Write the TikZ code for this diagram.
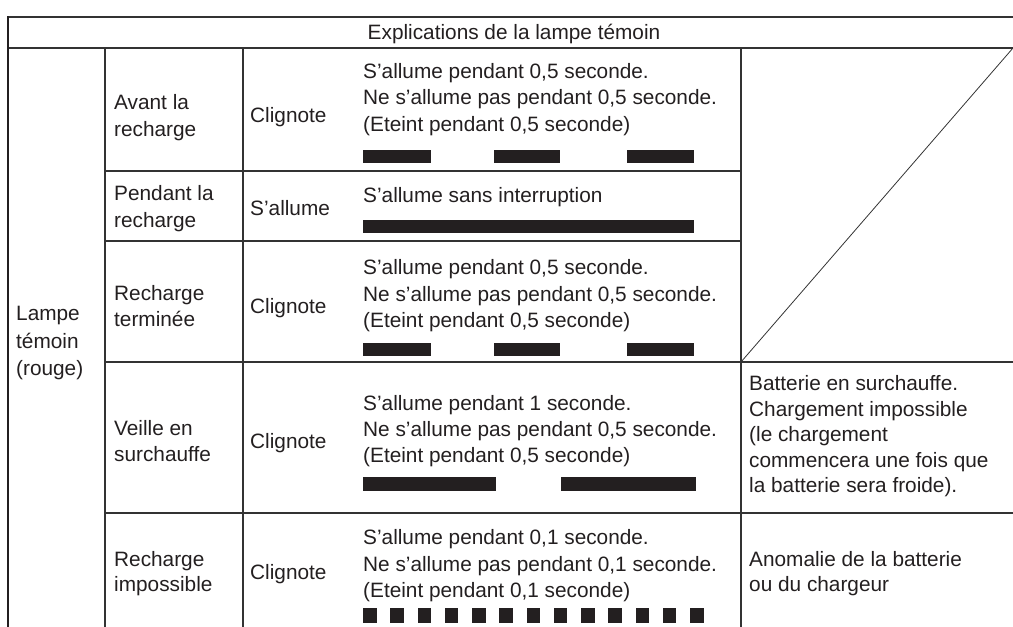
\documentclass[tikz,border=0pt]{standalone}
\usepackage{fontspec}
\setmainfont{Liberation Sans}
\definecolor{ink}{HTML}{231F20}
\definecolor{rulegray}{HTML}{333333}
\begin{document}
\begin{tikzpicture}[x=1pt,y=-1pt,
  txt/.style={anchor=base west, inner sep=0pt, font=\fontsize{20.8}{25}\selectfont, text=ink},
  rule/.style={draw=rulegray, line width=1.1pt},
  thickrule/.style={draw=ink, line width=2.6pt},
  bar/.style={fill=ink, draw=none}]
\useasboundingbox (0,0) rectangle (1013,627);
% ---- grid ----
\draw[rule] (8,17) -- (1013,17);
\draw[rule] (8,48) -- (1013,48);
\draw[thickrule] (8,16) -- (8,627);
\draw[rule] (105,48) -- (105,627);
\draw[rule] (243,48) -- (243,627);
\draw[rule] (741,48) -- (741,627);
\draw[rule] (105,171) -- (741,171);
\draw[rule] (105,241) -- (741,241);
\draw[rule] (105,362) -- (1013,362);
\draw[rule] (105,513) -- (1013,513);
\draw[draw=rulegray, line width=0.8pt] (741,362) -- (1013,48);
% ---- header ----
\node[txt, anchor=base] (hdr) at (514,39.5) {Explications de la lampe témoin};
% ---- column 1 ----
\node[txt] (c1a) at (16,320.5) {Lampe};
\node[txt] (c1b) at (16,348) {témoin};
\node[txt] (c1c) at (16,375.5) {(rouge)};
% ---- row 1 ----
\node[txt] (r1a) at (114,109) {Avant la};
\node[txt] (r1b) at (114,136) {recharge};
\node[txt] (r1c) at (250,122) {Clignote};
\node[txt] (r1d) at (363,78) {S’allume pendant 0,5 seconde.};
\node[txt] (r1e) at (363,104.5) {Ne s’allume pas pendant 0,5 seconde.};
\node[txt] (r1f) at (363,131) {(Eteint pendant 0,5 seconde)};
\fill[bar] (363,150) rectangle (431,163);
\fill[bar] (494,150) rectangle (560,163);
\fill[bar] (627,150) rectangle (694,163);
% ---- row 2 ----
\node[txt] (r2a) at (114,200.5) {Pendant la};
\node[txt] (r2b) at (114,227) {recharge};
\node[txt] (r2c) at (250,215.5) {S’allume};
\node[txt] (r2d) at (363,202) {S’allume sans interruption};
\fill[bar] (363,220) rectangle (694,233);
% ---- row 3 ----
\node[txt] (r3a) at (114,300) {Recharge};
\node[txt] (r3b) at (114,326) {terminée};
\node[txt] (r3c) at (250,313) {Clignote};
\node[txt] (r3d) at (363,274.5) {S’allume pendant 0,5 seconde.};
\node[txt] (r3e) at (363,301) {Ne s’allume pas pendant 0,5 seconde.};
\node[txt] (r3f) at (363,327.5) {(Eteint pendant 0,5 seconde)};
\fill[bar] (363,343) rectangle (431,356);
\fill[bar] (494,343) rectangle (560,356);
\fill[bar] (627,343) rectangle (694,356);
% ---- row 4 ----
\node[txt] (r4a) at (114,435) {Veille en};
\node[txt] (r4b) at (114,461) {surchauffe};
\node[txt] (r4c) at (250,448) {Clignote};
\node[txt] (r4d) at (363,410) {S’allume pendant 1 seconde.};
\node[txt] (r4e) at (363,436) {Ne s’allume pas pendant 0,5 seconde.};
\node[txt] (r4f) at (363,462) {(Eteint pendant 0,5 seconde)};
\fill[bar] (363,477) rectangle (496,491);
\fill[bar] (561,477) rectangle (696,491);
\node[txt] (r4g) at (749,390.5) {Batterie en surchauffe.};
\node[txt] (r4h) at (749,416) {Chargement impossible};
\node[txt] (r4i) at (749,441.5) {(le chargement};
\node[txt] (r4j) at (749,467) {commencera une fois que};
\node[txt] (r4k) at (749,492.5) {la batterie sera froide).};
% ---- row 5 ----
\node[txt] (r5a) at (114,566) {Recharge};
\node[txt] (r5b) at (114,591) {impossible};
\node[txt] (r5c) at (250,579) {Clignote};
\node[txt] (r5d) at (363,544.5) {S’allume pendant 0,1 seconde.};
\node[txt] (r5e) at (363,571) {Ne s’allume pas pendant 0,1 seconde.};
\node[txt] (r5f) at (363,597) {(Eteint pendant 0,1 seconde)};
\foreach \i in {0,...,12} {
  \fill[bar] ({363+27.25*\i},608) rectangle ({376.5+27.25*\i},623);
}
\node[txt] (r5g) at (749,566.5) {Anomalie de la batterie};
\node[txt] (r5h) at (749,591) {ou du chargeur};
\end{tikzpicture}
\end{document}
